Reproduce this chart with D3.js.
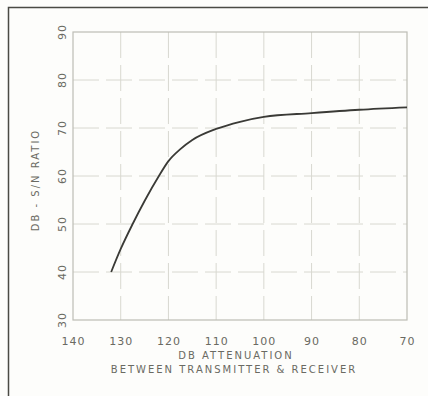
<!DOCTYPE html>
<html>
<head>
<meta charset="utf-8">
<script src="https://cdn.jsdelivr.net/npm/d3@7"></script>
<style>
  body { margin: 0; background: #fdfdfb; }
  text { font-family: "DejaVu Sans", sans-serif; fill: #6a6a62; }
</style>
</head>
<body>
<div id="chart-area"></div>
<script>
// values
const attenuation = [132, 130, 127.5, 125, 122, 120, 117.5, 115, 110, 105, 100, 90, 80, 70]
const snRatio = [40, 44.8, 50, 54.8, 60, 63.1, 65.6, 67.5, 69.8, 71.3, 72.3, 73.1, 73.8, 74.3]
const xTicks = [140, 130, 120, 110, 100, 90, 80, 70]
const yTicks = [30, 40, 50, 60, 70, 80, 90]

const MARGIN = { LEFT: 73, RIGHT: 21, TOP: 32, BOTTOM: 76 }
const WIDTH = 428 - MARGIN.LEFT - MARGIN.RIGHT
const HEIGHT = 396 - MARGIN.TOP - MARGIN.BOTTOM

const svg = d3.select("#chart-area").append("svg")
  .attr("width", 428)
  .attr("height", 396)

// page frame
svg.append("path")
  .attr("d", "M8.5,396 L8.5,7.5 L428,7.5")
  .attr("fill", "none")
  .attr("stroke", "#4a4a44")
  .attr("stroke-width", 1.5)

const g = svg.append("g")
  .attr("transform", `translate(${MARGIN.LEFT}, ${MARGIN.TOP})`)

const x = d3.scaleLinear()
  .domain([140, 70])
  .range([0, WIDTH])

const y = d3.scaleLinear()
  .domain([30, 90])
  .range([HEIGHT, 0])

// grid
g.append("g")
  .selectAll("line")
  .data(xTicks.slice(1, -1))
  .join("line")
    .attr("x1", d => x(d)).attr("x2", d => x(d))
    .attr("y1", 0).attr("y2", HEIGHT)
    .attr("stroke", "#d8d8d0")
    .attr("stroke-dasharray", "26 7")

g.append("g")
  .selectAll("line")
  .data(yTicks.slice(1, -1))
  .join("line")
    .attr("x1", 0).attr("x2", WIDTH)
    .attr("y1", d => y(d)).attr("y2", d => y(d))
    .attr("stroke", "#d8d8d0")
    .attr("stroke-dasharray", "26 7")

g.append("rect")
  .attr("width", WIDTH)
  .attr("height", HEIGHT)
  .attr("fill", "none")
  .attr("stroke", "#bdbdb5")
  .attr("stroke-width", 1.2)

// x axis
const xAxisCall = d3.axisBottom(x)
  .tickValues(xTicks)
  .tickSize(0)
  .tickPadding(17)

g.append("g")
  .attr("class", "x axis")
  .attr("transform", `translate(0, ${HEIGHT})`)
  .call(xAxisCall)
  .call(a => a.select(".domain").remove())
  .selectAll("text")
    .style("font-size", "11px")
    .style("letter-spacing", "1px")
    .style("fill", "#6a6a62")

// y axis labels, rotated
g.append("g")
  .attr("class", "y axis")
  .selectAll("text")
  .data(yTicks)
  .join("text")
    .attr("transform", d => `translate(-7, ${y(d)}) rotate(-90)`)
    .attr("text-anchor", "middle")
    .style("font-size", "11px")
    .style("letter-spacing", "1px")
    .text(d => d)

// axis titles
svg.append("text")
  .attr("x", 236)
  .attr("y", 359)
  .attr("text-anchor", "middle")
  .style("font-size", "10px")
  .style("letter-spacing", "2px")
  .text("DB ATTENUATION")

svg.append("text")
  .attr("x", 234)
  .attr("y", 373)
  .attr("text-anchor", "middle")
  .style("font-size", "10px")
  .style("letter-spacing", "2px")
  .text("BETWEEN TRANSMITTER & RECEIVER")

svg.append("text")
  .attr("transform", "translate(39, 180) rotate(-90)")
  .attr("text-anchor", "middle")
  .style("font-size", "10px")
  .style("letter-spacing", "2px")
  .text("DB - S/N RATIO")

// curve
const line = d3.line()
  .x((d, i) => x(attenuation[i]))
  .y(d => y(d))
  .curve(d3.curveMonotoneX)

g.append("path")
  .datum(snRatio)
  .attr("fill", "none")
  .attr("stroke", "#3a3a36")
  .attr("stroke-width", 1.8)
  .attr("stroke-linejoin", "round")
  .attr("d", line)
</script>
</body>
</html>
